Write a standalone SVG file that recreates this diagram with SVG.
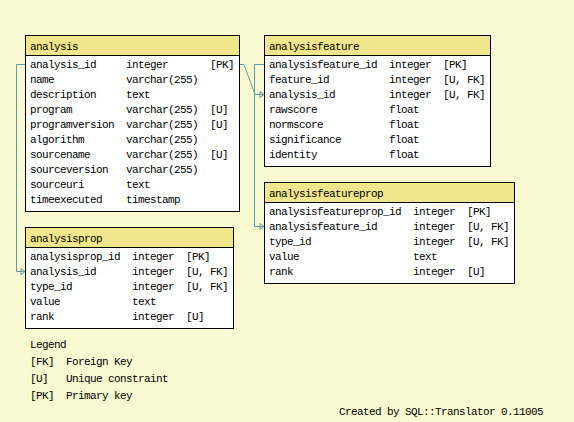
<svg xmlns="http://www.w3.org/2000/svg" width="574" height="422" viewBox="0 0 574 422">
<style>
text{font-family:"Liberation Mono","DejaVu Sans Mono",monospace;font-size:11px;letter-spacing:-0.6px;fill:#000}
.box{fill:#fff;stroke:#000;stroke-width:1}
.hdr{fill:#f0e68c;stroke:#000;stroke-width:1}
.conn{fill:none;stroke:#5f9ea0;stroke-width:1}
</style>
<defs>
<marker id="arr" markerUnits="userSpaceOnUse" markerWidth="8" markerHeight="8" viewBox="0 0 8 8" refX="5" refY="4" orient="auto">
<path d="M1,1 L5,4 L1,7 Z" fill="none" stroke="#5f9ea0" stroke-width="1"/>
</marker>
</defs>
<rect x="0" y="0" width="574" height="422" fill="#fafad2"/>
<g id="connectors">
<polyline class="conn" points="240,64.5 244,64.5 255,94.5 264,94.5" marker-end="url(#arr)"/>
<polyline class="conn" points="25,64.5 16.5,64.5 16.5,271.5 25,271.5" marker-end="url(#arr)"/>
<polyline class="conn" points="264,64.5 254.5,64.5 254.5,226.5 264,226.5" marker-end="url(#arr)"/>
</g>
<g id="analysis">
<rect class="box" x="25.5" y="35.5" width="214" height="176"/>
<rect class="hdr" x="25.5" y="35.5" width="214" height="20"/>
<text x="30" y="50">analysis</text>
<text x="30" y="68">analysis_id</text><text x="126" y="68">integer</text><text x="210" y="68">[PK]</text>
<text x="30" y="83">name</text><text x="126" y="83">varchar(255)</text>
<text x="30" y="98">description</text><text x="126" y="98">text</text>
<text x="30" y="113">program</text><text x="126" y="113">varchar(255)</text><text x="210" y="113">[U]</text>
<text x="30" y="128">programversion</text><text x="126" y="128">varchar(255)</text><text x="210" y="128">[U]</text>
<text x="30" y="143">algorithm</text><text x="126" y="143">varchar(255)</text>
<text x="30" y="158">sourcename</text><text x="126" y="158">varchar(255)</text><text x="210" y="158">[U]</text>
<text x="30" y="173">sourceversion</text><text x="126" y="173">varchar(255)</text>
<text x="30" y="188">sourceuri</text><text x="126" y="188">text</text>
<text x="30" y="203">timeexecuted</text><text x="126" y="203">timestamp</text>
</g>
<g id="analysisfeature">
<rect class="box" x="264.5" y="35.5" width="226" height="131"/>
<rect class="hdr" x="264.5" y="35.5" width="226" height="20"/>
<text x="269" y="50">analysisfeature</text>
<text x="269" y="68">analysisfeature_id</text><text x="389" y="68">integer</text><text x="443" y="68">[PK]</text>
<text x="269" y="83">feature_id</text><text x="389" y="83">integer</text><text x="443" y="83">[U, FK]</text>
<text x="269" y="98">analysis_id</text><text x="389" y="98">integer</text><text x="443" y="98">[U, FK]</text>
<text x="269" y="113">rawscore</text><text x="389" y="113">float</text>
<text x="269" y="128">normscore</text><text x="389" y="128">float</text>
<text x="269" y="143">significance</text><text x="389" y="143">float</text>
<text x="269" y="158">identity</text><text x="389" y="158">float</text>
</g>
<g id="analysisprop">
<rect class="box" x="25.5" y="227.5" width="208" height="101"/>
<rect class="hdr" x="25.5" y="227.5" width="208" height="20"/>
<text x="30" y="242">analysisprop</text>
<text x="30" y="260">analysisprop_id</text><text x="132" y="260">integer</text><text x="186" y="260">[PK]</text>
<text x="30" y="275">analysis_id</text><text x="132" y="275">integer</text><text x="186" y="275">[U, FK]</text>
<text x="30" y="290">type_id</text><text x="132" y="290">integer</text><text x="186" y="290">[U, FK]</text>
<text x="30" y="305">value</text><text x="132" y="305">text</text>
<text x="30" y="320">rank</text><text x="132" y="320">integer</text><text x="186" y="320">[U]</text>
</g>
<g id="analysisfeatureprop">
<rect class="box" x="264.5" y="182.5" width="250" height="101"/>
<rect class="hdr" x="264.5" y="182.5" width="250" height="20"/>
<text x="269" y="197">analysisfeatureprop</text>
<text x="269" y="215">analysisfeatureprop_id</text><text x="413" y="215">integer</text><text x="467" y="215">[PK]</text>
<text x="269" y="230">analysisfeature_id</text><text x="413" y="230">integer</text><text x="467" y="230">[U, FK]</text>
<text x="269" y="245">type_id</text><text x="413" y="245">integer</text><text x="467" y="245">[U, FK]</text>
<text x="269" y="260">value</text><text x="413" y="260">text</text>
<text x="269" y="275">rank</text><text x="413" y="275">integer</text><text x="467" y="275">[U]</text>
</g>
<g id="legend">
<text x="30" y="348">Legend</text>
<text x="30" y="365">[FK]</text><text x="66" y="365">Foreign Key</text>
<text x="30" y="382">[U]</text><text x="66" y="382">Unique constraint</text>
<text x="30" y="399">[PK]</text><text x="66" y="399">Primary key</text>
</g>
<text x="339" y="415">Created by SQL::Translator 0.11005</text>
</svg>
